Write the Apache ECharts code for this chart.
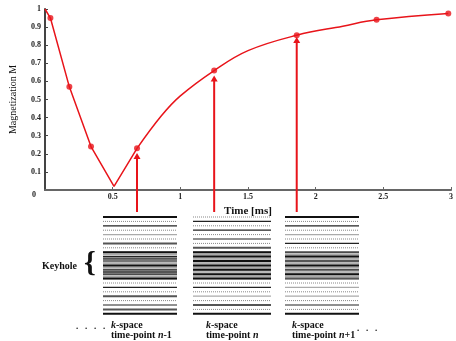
<!DOCTYPE html>
<html><head><meta charset="utf-8">
<script src="https://cdn.jsdelivr.net/npm/echarts@6/dist/echarts.min.js"></script>
<style>html,body{margin:0;padding:0;background:#fff}#c{width:456px;height:341px}</style>
</head><body><div id="c"></div>
<script>
// ---- data ----
var lineStraightT = [0, 0.04, 0.18, 0.34, 0.51, 0.68];
var lineStraightM = [1.0, 0.95, 0.57, 0.24, 0.02, 0.23];
var curveT = [0.68, 0.86, 1.0, 1.25, 1.5, 1.86, 2.2, 2.45, 2.98];
var curveM = [0.23, 0.41, 0.52, 0.66, 0.77, 0.855, 0.905, 0.94, 0.975];
var markerT = [0.04, 0.18, 0.34, 0.68, 1.25, 1.86, 2.45, 2.98];
var markerM = [0.95, 0.57, 0.24, 0.23, 0.66, 0.855, 0.94, 0.975];
var arrowT = [0.68, 1.25, 1.86];
var arrowTipM = [0.205, 0.633, 0.845];
var xTicks = ['0', '0.5', '1', '1.5', '2', '2.5', '3'];
var yTicks = ['0', '0.1', '0.2', '0.3', '0.4', '0.5', '0.6', '0.7', '0.8', '0.9', '1'];
var panelPatterns = [
  'K.d.k.d.g.d.G.d.' + 'KgkGkgKgkGkgK' + '.' + 'd.k.d.G.d.k.G.K',
  'd.k.d.k.d.k.d.G.' + 'KgKgKgKgKgKgK' + '.' + 'd.k.d.g.d.G.d.K',
  'K.d.k.d.g.d.k.d.' + 'kgKgGgKgkgKgG' + '.' + 'd.g.d.g.d.k.d.K'
];
var panelLabelsTop = ['k-space', 'k-space', 'k-space'];
var panelLabelsBottom = ['time-point n-1', 'time-point n', 'time-point n+1'];

// ---- layout ----
var panelX0 = [103, 193, 285], panelX1 = [177, 271, 359];
var panelTop = 217, slotH = 2.2;
var RED = '#e8141a';

function zip(a, b) { return a.map(function (v, i) { return [v, b[i]]; }); }

var rows = [];
panelPatterns.forEach(function (pat, p) {
  rows.push([p, -1, 'BG']);
  for (var s = 0; s < pat.length; s++) if (pat[s] !== '.') rows.push([p, s, pat[s]]);
});

var styles = {
  K: { stroke: '#111', lineWidth: 2 },
  k: { stroke: '#222', lineWidth: 1.2 },
  d: { stroke: '#888', lineWidth: 1, lineDash: [1, 1] },
  G: { stroke: '#555', lineWidth: 2 },
  g: { stroke: '#aaa', lineWidth: 1.2 }
};

var serif = '"Liberation Serif", "DejaVu Serif", serif';

var chart = echarts.init(document.getElementById('c'), null, { renderer: 'canvas' });
chart.setOption({
  animation: false,
  backgroundColor: '#fff',
  grid: [
    { left: 41, right: 1, top: 9, bottom: 151 },
    { left: 0, right: 0, top: 0, bottom: 0, show: false }
  ],
  xAxis: [
    {
      type: 'value', gridIndex: 0, min: 0, max: 3, interval: 0.5,
      name: 'Time [ms]', nameLocation: 'middle', nameGap: 15,
      nameTextStyle: { fontFamily: serif, fontWeight: 'bold', fontSize: 11, color: '#111' },
      axisLine: { lineStyle: { color: '#666', width: 2 } },
      axisTick: { inside: true, length: 3, lineStyle: { color: '#666' } },
      axisLabel: { fontFamily: serif, fontWeight: 'bold', fontSize: 8, color: '#222', margin: 3, showMinLabel: false,
        formatter: function (v) { return xTicks[Math.round(v / 0.5)]; } },
      splitLine: { show: false }
    },
    { type: 'value', gridIndex: 1, min: 0, max: 456, show: false }
  ],
  yAxis: [
    {
      type: 'value', gridIndex: 0, min: 0, max: 1, interval: 0.1,
      name: 'Magnetization M', nameLocation: 'middle', nameGap: 27,
      nameTextStyle: { fontFamily: serif, fontSize: 10, color: '#111' },
      axisLine: { show: true, lineStyle: { color: '#444', width: 2 } },
      axisTick: { show: true, inside: true, length: 3, lineStyle: { color: '#444' } },
      axisLabel: { fontFamily: serif, fontWeight: 'bold', fontSize: 8, color: '#222', margin: 4, showMinLabel: false,
        formatter: function (v) { return yTicks[Math.round(v * 10)]; } },
      splitLine: { show: false }
    },
    { type: 'value', gridIndex: 1, min: 0, max: 341, inverse: true, show: false }
  ],
  series: [
    {
      type: 'line', xAxisIndex: 0, yAxisIndex: 0, data: zip(lineStraightT, lineStraightM),
      showSymbol: false, lineStyle: { color: RED, width: 1.5 }, z: 3
    },
    {
      type: 'line', xAxisIndex: 0, yAxisIndex: 0, data: zip(curveT, curveM), smooth: 0.4,
      showSymbol: false, lineStyle: { color: RED, width: 1.5 }, z: 3
    },
    {
      type: 'scatter', xAxisIndex: 0, yAxisIndex: 0, data: zip(markerT, markerM),
      symbol: 'circle', symbolSize: 6, itemStyle: { color: RED }, z: 4
    },
    {
      type: 'custom', xAxisIndex: 0, yAxisIndex: 0, data: zip(arrowT, arrowTipM), clip: false, z: 5,
      renderItem: function (params, api) {
        var tip = api.coord([api.value(0), api.value(1)]);
        var base = api.coord([api.value(0), 0]);
        var x = tip[0], y = tip[1], yb = base[1] + 22;
        return { type: 'group', children: [
          { type: 'line', shape: { x1: x, y1: y + 5, x2: x, y2: yb }, style: { stroke: RED, lineWidth: 2 } },
          { type: 'polygon', shape: { points: [[x, y], [x - 3.5, y + 6], [x + 3.5, y + 6]] }, style: { fill: RED } }
        ] };
      }
    },
    {
      type: 'custom', xAxisIndex: 1, yAxisIndex: 1, data: rows, clip: false, z: 2,
      renderItem: function (params, api) {
        var r = rows[params.dataIndex];
        var p = r[0], s = r[1], code = r[2];
        var a = api.coord([panelX0[p], panelTop + 15.5 * slotH]);
        var b = api.coord([panelX1[p], panelTop + 28.5 * slotH]);
        if (code === 'BG') {
          return { type: 'rect', shape: { x: a[0], y: a[1], width: b[0] - a[0], height: b[1] - a[1] }, style: { fill: '#c8c8c8' } };
        }
        var c0 = api.coord([panelX0[p], panelTop + s * slotH]);
        var c1 = api.coord([panelX1[p], panelTop + s * slotH]);
        return { type: 'line', shape: { x1: c0[0], y1: c0[1], x2: c1[0], y2: c1[1] }, style: styles[code] };
      }
    }
  ],
  graphic: [
    { type: 'text', left: 32, top: 191, style: { text: '0', font: 'bold 8px ' + serif, fill: '#222' } },
    { type: 'text', left: 42, top: 261, style: { text: 'Keyhole', font: 'bold 10px ' + serif, fill: '#111' } },
    { type: 'text', left: 84, top: 249, style: { text: '{', font: 'bold 30px ' + serif, fill: '#111' } },
    { type: 'text', left: 76, top: 322, style: { text: '.   .   .   .', font: 'bold 9px ' + serif, fill: '#111' } },
    { type: 'text', left: 357, top: 324, style: { text: '.   .   .', font: 'bold 9px ' + serif, fill: '#111' } }
  ].concat([0, 1, 2].map(function (i) {
    var lx = [111, 206, 292][i];
    var t = panelLabelsTop[i], b = panelLabelsBottom[i];
    var b1 = b.slice(0, b.lastIndexOf(' ') + 1), b2 = b.slice(b.lastIndexOf(' ') + 1);
    return { type: 'text', left: lx, top: 320, style: {
      text: '{i|' + t.charAt(0) + '}{r|' + t.slice(1) + '}\n{r|' + b1 + '}{i|' + b2.charAt(0) + '}{r|' + b2.slice(1) + '}',
      rich: {
        i: { font: 'italic bold 10px ' + serif, fill: '#111', lineHeight: 10 },
        r: { font: 'bold 10px ' + serif, fill: '#111', lineHeight: 10 }
      }
    } };
  }))
});
</script></body></html>
